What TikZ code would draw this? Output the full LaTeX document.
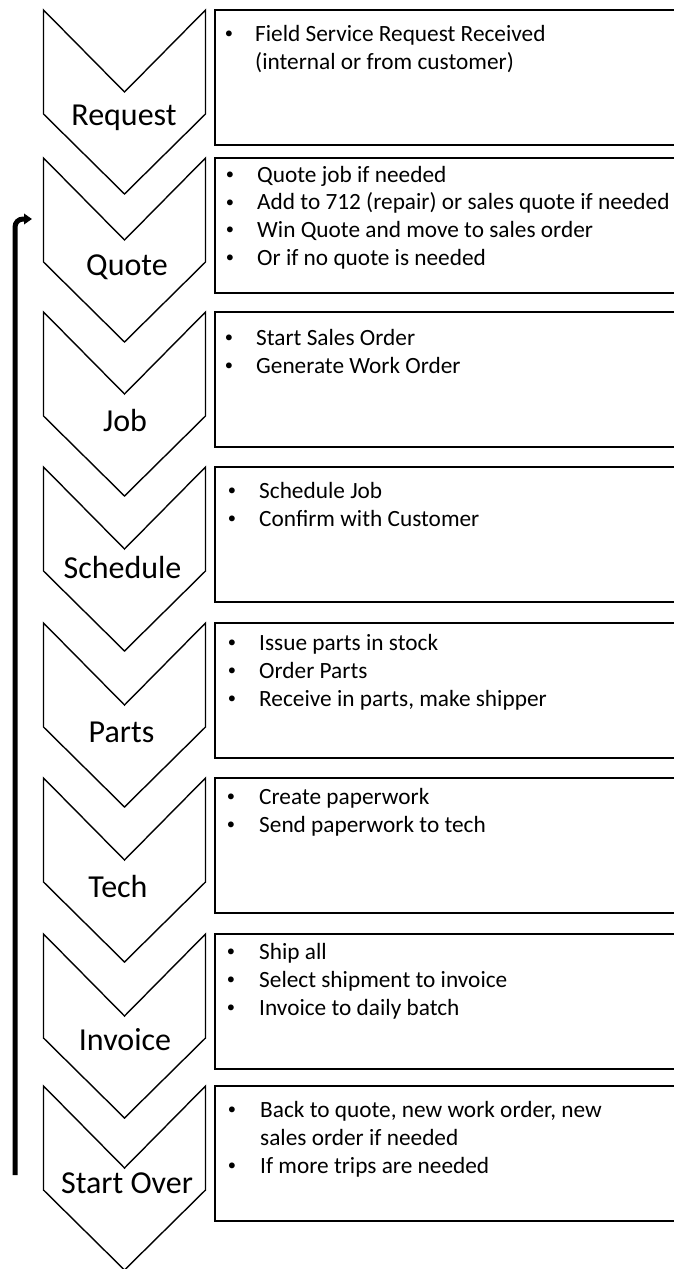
\documentclass[tikz,border=0pt]{standalone}
\usepackage{fontspec}
\setmainfont{Carlito}
\usetikzlibrary{arrows.meta}
\tikzset{
  chev/.style={draw=black, line width=1.4pt, line join=miter},
  stepbox/.style={draw=black, line width=2pt},
  lbl/.style={font=\fontsize{32}{38}\selectfont, anchor=base, inner sep=0pt},
  itm/.style={font=\fontsize{23.3}{28}\selectfont, anchor=base west, inner sep=0pt},
  bul/.style={font=\fontsize{16.5}{20}\selectfont, anchor=base, inner sep=0pt},
  looparrow/.style={line width=5pt, rounded corners=8pt, -{Triangle[length=8pt,width=10.5pt]}}
}
\newcommand\bulchar{\raisebox{2.5pt}{•}}
\begin{document}
\begin{tikzpicture}[x=1pt,y=-1pt]
\useasboundingbox (0,0) rectangle (674,1269);
\clip (0,0) rectangle (674,1269);
% chevrons and boxes
\foreach \t in {10,158,312,467,623,778,934,1086}{
  \draw[chev] (43.5,\t) -- (124.5,\t+82) -- (205.5,\t) -- (205.5,\t+104)
     -- (124.5,\t+184) -- (43.5,\t+104) -- cycle;
  \draw[stepbox] (215,\t) rectangle (700,\t+135);
}
% chevron labels
\node[lbl] (lRequest) at (124,125) {Request};
\node[lbl] (lQuote) at (127,275) {Quote};
\node[lbl] (lJob) at (125,431) {Job};
\node[lbl] (lSchedule) at (122.5,578) {Schedule};
\node[lbl] (lParts) at (121.5,742) {Parts};
\node[lbl] (lTech) at (118,897) {Tech};
\node[lbl] (lInvoice) at (125,1050) {Invoice};
\node[lbl] (lStart) at (127,1193) {Start Over};
% box 1
\node[bul] (b1a) at (229,41) {\bulchar};
\node[itm] (t1a) at (255,41) {Field Service Request Received};
\node[itm] (t1b) at (255,69) {(internal or from customer)};
% box 2
\node[bul] (b2a) at (230,182) {\bulchar};
\node[itm] (t2a) at (257,182) {Quote job if needed};
\node[bul] (b2b) at (230,209.5) {\bulchar};
\node[itm] (t2b) at (257,209.5) {Add to 712 (repair) or sales quote if needed};
\node[bul] (b2c) at (230,237) {\bulchar};
\node[itm] (t2c) at (257,237) {Win Quote and move to sales order};
\node[bul] (b2d) at (230,265) {\bulchar};
\node[itm] (t2d) at (257,265) {Or if no quote is needed};
% box 3
\node[bul] (b3a) at (229,345) {\bulchar};
\node[itm] (t3a) at (256,345) {Start Sales Order};
\node[bul] (b3b) at (229,373) {\bulchar};
\node[itm] (t3b) at (256,373) {Generate Work Order};
% box 4
\node[bul] (b4a) at (232,498) {\bulchar};
\node[itm] (t4a) at (259,498) {Schedule Job};
\node[bul] (b4b) at (232,526) {\bulchar};
\node[itm] (t4b) at (259,526) {Confirm with Customer};
% box 5
\node[bul] (b5a) at (232,650) {\bulchar};
\node[itm] (t5a) at (259,650) {Issue parts in stock};
\node[bul] (b5b) at (232,678) {\bulchar};
\node[itm] (t5b) at (259,678) {Order Parts};
\node[bul] (b5c) at (232,706) {\bulchar};
\node[itm] (t5c) at (259,706) {Receive in parts, make shipper};
% box 6
\node[bul] (b6a) at (231,804) {\bulchar};
\node[itm] (t6a) at (259,804) {Create paperwork};
\node[bul] (b6b) at (231,832) {\bulchar};
\node[itm] (t6b) at (259,832) {Send paperwork to tech};
% box 7
\node[bul] (b7a) at (231,959) {\bulchar};
\node[itm] (t7a) at (259,959) {Ship all};
\node[bul] (b7b) at (231,987) {\bulchar};
\node[itm] (t7b) at (259,987) {Select shipment to invoice};
\node[bul] (b7c) at (231,1015) {\bulchar};
\node[itm] (t7c) at (259,1015) {Invoice to daily batch};
% box 8
\node[bul] (b8a) at (232,1117) {\bulchar};
\node[itm] (t8a) at (260,1117) {Back to quote, new work order, new};
\node[itm] (t8b) at (260,1145) {sales order if needed};
\node[bul] (b8c) at (232,1173) {\bulchar};
\node[itm] (t8c) at (260,1173) {If more trips are needed};
% loop arrow
\coordinate (loopA) at (15,1175);
\coordinate (loopB) at (32,219);
\draw[looparrow] (loopA) |- (loopB);
\end{tikzpicture}
\end{document}
